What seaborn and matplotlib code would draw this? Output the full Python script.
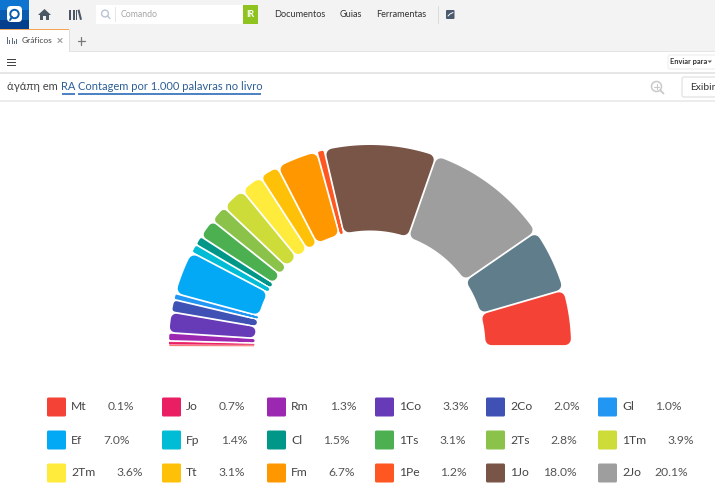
import numpy as np
import matplotlib
matplotlib.use("Agg")
import matplotlib.pyplot as plt
from matplotlib.patches import Rectangle, FancyBboxPatch, Circle, Polygon
import seaborn as sns

# data
books = ["Mt", "Jo", "Rm", "1Co", "2Co", "Gl", "Ef", "Fp", "Cl", "1Ts", "2Ts", "1Tm",
         "2Tm", "Tt", "Fm", "1Pe", "1Jo", "2Jo"]
shares = [0.1, 0.7, 1.3, 3.3, 2.0, 1.0, 7.0, 1.4, 1.5, 3.1, 2.8, 3.9, 3.6, 3.1, 6.7, 1.2, 18.0, 20.1]
# last two slices have their legend entries cut off in the screenshot
unlisted_shares = [10.2, 9.0]
colors = ["#F44336", "#E91E63", "#9C27B0", "#673AB7", "#3F51B5", "#2196F3", "#03A9F4",
          "#00BCD4", "#009688", "#4CAF50", "#8BC34A", "#CDDC39", "#FFEB3B", "#FFC107",
          "#FF9800", "#FF5722", "#795548", "#9E9E9E", "#607D8B", "#F44336"]

sns.set_theme(style="white")
plt.rcParams["font.family"] = ["Lato", "Noto Sans", "DejaVu Sans"]
palette = sns.color_palette(colors)

W, H = 715, 496
fig = plt.figure(figsize=(W / 100, H / 100), dpi=100, facecolor="white")

# screen furniture, in pixel coords
ui = fig.add_axes([0, 0, 1, 1])
ui.set_xlim(0, W)
ui.set_ylim(H, 0)
ui.axis("off")


def rect(x, y, w, h, color, **kw):
    ui.add_patch(Rectangle((x, y), w, h, facecolor=color, edgecolor="none", **kw))


def rounded(x, y, w, h, face, edge="none", rad=2):
    ui.add_patch(FancyBboxPatch((x + rad, y + rad), w - 2 * rad, h - 2 * rad,
                                boxstyle=f"round,pad={rad},rounding_size={rad}",
                                facecolor=face, edgecolor=edge, linewidth=0.8))


rect(0, 0, W, 51, "#f3f3f3")
rect(0, 51, W, 1, "#e4e4e4")
rect(0, 72, W, 1.5, "#e6e6e6")
rect(0, 100, W, 1.5, "#ececec")

# logo
rect(0, 0, 29, 10, "#0d74cf")
rect(0, 10, 29, 10, "#0a5cb0")
rect(0, 20, 29, 10, "#033f8c")
rounded(7, 6, 15, 16, "white", rad=4)
ui.add_patch(Circle((14.5, 14), 4.2, facecolor="none", edgecolor="#0b5fae", linewidth=1.4))
ui.plot([12, 10], [17, 20], color="#0b5fae", lw=1.4)

# home and library icons
ui.add_patch(Polygon([[38, 15], [44.5, 9], [51, 15], [49, 15], [49, 20], [46, 20], [46, 16],
                      [43, 16], [43, 20], [40, 20], [40, 15]], facecolor="#4c5766", edgecolor="none"))
for x in (69, 72.5):
    rect(x, 10, 2.2, 10, "#4c5766")
rect(75.8, 10, 1.5, 10, "#4c5766")
ui.add_patch(Polygon([[77.5, 10], [79.5, 9.5], [82, 19.5], [80, 20]], facecolor="#4c5766", edgecolor="none"))

# command box
rect(96, 5, 147, 19, "white")
rect(115, 7, 0.8, 15, "#e6e6e6")
ui.add_patch(Circle((105, 13.5), 3.4, facecolor="none", edgecolor="#b9c3d3", linewidth=1))
ui.plot([107.5, 110], [16, 18.5], color="#b9c3d3", lw=1)
ui.text(121, 14.5, "Comando", fontsize=6.3, color="#a6a6a6", va="center")
rect(243, 5, 15, 19, "#8fc31f")
ui.text(250.5, 14.5, "IR", fontsize=6.2, color="white", fontweight="bold", ha="center", va="center")

for x, label in zip((274, 340, 376.5), ("Documentos", "Guias", "Ferramentas")):
    ui.text(x, 14.5, label, fontsize=6.6, color="#333333", va="center")
rect(438, 6, 0.8, 18, "#dcdcdc")
rounded(446, 10, 8.5, 9, "#4c5a70", rad=1)
ui.plot([448, 450, 453], [16, 14, 12.5], color="white", lw=0.7)

# tab row
rect(0, 30, 69, 22, "white")
rect(0, 29, 69, 1, "#f5a55a")
rect(69, 30, 0.8, 21, "#dddddd")
for x, h in zip((6.5, 9, 11.5, 14, 16), (7, 4, 6, 3, 5)):
    rect(x, 44 - h, 1.2, h, "#5b6b80")
ui.text(21.5, 40.5, "Gráficos", fontsize=6, color="#444444", va="center")
ui.plot([58, 62], [38.5, 42.5], color="#999999", lw=0.8)
ui.plot([58, 62], [42.5, 38.5], color="#999999", lw=0.8)
ui.plot([81, 81], [37, 44.5], color="#777777", lw=0.9)
ui.plot([77.5, 85], [40.5, 40.5], color="#777777", lw=0.9)

# toolbar row
for y in (59, 62, 65):
    rect(7, y - 0.5, 9, 1, "#444444")
rounded(668, 55, 50, 14, "white", edge="#eeeeee", rad=2)
ui.text(670.5, 61.5, "Enviar para", fontsize=5.3, color="#333333", va="center", fontweight="bold")
ui.add_patch(Polygon([[707.5, 60.5], [712, 60.5], [709.8, 63]], facecolor="#666666", edgecolor="none"))

# title row
ui.text(7, 87, "ἀγάπη em", fontsize=8, color="#444444", va="center")
ui.text(61.5, 87, "RA", fontsize=8, color="#2d5f96", va="center")
ui.text(78, 87, "Contagem por 1.000 palavras no livro", fontsize=8, color="#2d5f96", va="center")
rect(61.5, 93.3, 13, 1.2, "#4f84c4")
rect(78, 93.3, 183, 1.2, "#4f84c4")
ui.add_patch(Circle((656.5, 86.5), 5, facecolor="none", edgecolor="#c9c9c9", linewidth=1.1))
ui.plot([660.5, 663.5], [90.5, 93.5], color="#c9c9c9", lw=1.3)
ui.plot([654, 659], [86.5, 86.5], color="#c9c9c9", lw=0.8)
ui.plot([656.5, 656.5], [84, 89], color="#c9c9c9", lw=0.8)
rect(674.5, 78, 0.8, 18, "#dddddd")
rounded(682, 77, 50, 20, "white", edge="#dddddd", rad=2)
ui.text(690.5, 87, "Exibir", fontsize=7.4, color="#333333", va="center")

# half donut on a polar axes, 1 unit of r is 1 pixel
CX, CY, RMAX = 370, 346, 210
pol = fig.add_axes([(CX - RMAX) / W, 1 - (CY + RMAX) / H, 2 * RMAX / W, 2 * RMAX / H],
                   projection="polar")
pol.set_rlim(0, RMAX)
pol.set_axis_off()
pol.patch.set_alpha(0)

r_in, r_out = 115.5, 201
gap = 1.8
values = np.array(shares + unlisted_shares)
edges = np.pi - np.concatenate([[0], np.cumsum(values)]) * np.pi / values.sum()

for i, col in enumerate(palette):
    half = (edges[i] - edges[i + 1]) / 2
    mid = (edges[i] + edges[i + 1]) / 2
    # corners come from a thick round-joined outline around an inset polygon
    corner = np.clip(half * r_in - gap / 2, 0.4, 6)
    off = corner + gap / 2
    r0, r1 = r_in + corner, r_out - corner
    h0 = max(half - np.arcsin(off / r0), 0)
    h1 = max(half - np.arcsin(off / r1), 0)
    th = np.concatenate([np.linspace(mid + h1, mid - h1, 40), np.linspace(mid - h0, mid + h0, 40)])
    rr = np.concatenate([np.full(40, r1), np.full(40, r0)])
    pol.fill(th, rr, facecolor=col, edgecolor=col, linewidth=2 * corner * 72 / 100, joinstyle="round")

# legend
swatch_x = [47, 162, 267, 375, 486, 598]
row_y = [407, 440, 473]
renderer = fig.canvas.get_renderer()
for i, (book, share) in enumerate(zip(books, shares)):
    x = swatch_x[i % 6]
    y = row_y[i // 6]
    rounded(x, y - 9.5, 19, 19, palette[i], rad=1.5)
    lab = ui.text(x + 24, y, book, fontsize=8.7, color="#444444", va="center")
    end = ui.transData.inverted().transform(lab.get_window_extent(renderer).max)[0]
    # percent ends a fixed distance after the book label
    ui.text(end + 47.5, y, f"{share:.1f}%", fontsize=8.7, color="#555555", va="center", ha="right")

fig.savefig("out.png", dpi=100)
